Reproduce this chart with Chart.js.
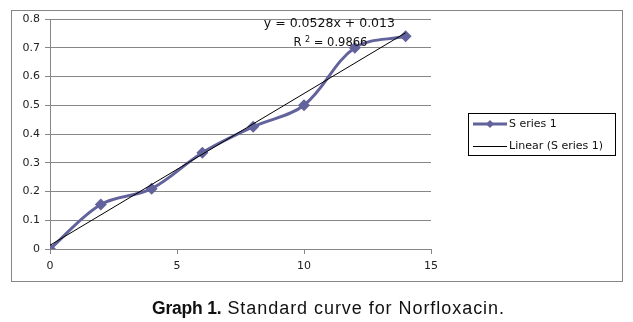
<!DOCTYPE html>
<html>
<head>
<meta charset="utf-8">
<script src="https://cdn.jsdelivr.net/npm/chart.js@4/dist/chart.umd.min.js"></script>
<style>
  html, body { margin: 0; padding: 0; background: #fff; }
  #wrap { position: relative; width: 633px; height: 322px; }
  #c { position: absolute; left: 0; top: 0; }
  #caption { position: absolute; left: 12px; width: 633px; top: 299px; text-align: center; white-space: nowrap;
    font-family: "Liberation Sans", Arial, sans-serif; font-size: 18px; letter-spacing: 0.95px; color: #111; line-height: 18px; }
  #caption b { font-size: 17.5px; letter-spacing: -0.2px; }
</style>
</head>
<body>
<div id="wrap">
  <canvas id="c" width="633" height="322"></canvas>
  <div id="caption"><b>Graph 1.</b> Standard curve for Norfloxacin.</div>
</div>
<script>
// ---- data ----
const concentrations = [0, 2, 4, 6, 8, 10, 12, 14];
const absorbance = [0, 0.155, 0.21, 0.335, 0.425, 0.5, 0.7, 0.74];
const trendX = [0, 14];
const trendY = [0.013, 0.752];
const seriesLabel = "S eries 1";
const trendLabel = "Linear (S eries 1)";
const equationText = "y = 0.0528x + 0.013";
const rSquaredText = "0.9866";
const xTickStep = 5;
const yTickStep = 0.1;

const seriesColor = '#62629c';
const gridColor = '#868686';
const font = "DejaVu Sans";

const seriesPoints = concentrations.map((x, i) => ({ x: x, y: absorbance[i] }));
const trendPoints = trendX.map((x, i) => ({ x: x, y: trendY[i] }));

const decor = {
  id: 'decor',
  afterDraw(chart) {
    const ctx = chart.ctx;
    ctx.save();
    // outer border
    ctx.strokeStyle = gridColor;
    ctx.lineWidth = 1;
    ctx.strokeRect(11.5, 10.5, 611, 271);

    // equation labels
    const xs = chart.scales.x, ys = chart.scales.y;
    ctx.fillStyle = '#111';
    ctx.font = '12.5px "' + font + '"';
    ctx.textBaseline = 'middle';
    ctx.textAlign = 'center';
    const cx = xs.getPixelForValue(11.0);
    ctx.fillText(equationText, cx, ys.getPixelForValue(0.785));
    // R² line
    const y2 = ys.getPixelForValue(0.715);
    const partA = 'R', partSup = '2', partB = ' = ' + rSquaredText;
    ctx.font = '11.5px "' + font + '"';
    const wA = ctx.measureText(partA + ' ').width;
    ctx.font = '8px "' + font + '"';
    const wS = ctx.measureText(partSup).width;
    ctx.font = '11.5px "' + font + '"';
    const wB = ctx.measureText(partB).width;
    let sx = cx - (wA + wS + wB) / 2 + 1;
    ctx.textAlign = 'left';
    ctx.fillText(partA, sx, y2);
    ctx.font = '8px "' + font + '"';
    ctx.fillText(partSup, sx + wA, y2 - 4);
    ctx.font = '11.5px "' + font + '"';
    ctx.fillText(partB, sx + wA + wS, y2);

    // legend
    const lx = 468.5, ly = 113.5, lw = 147, lh = 42;
    ctx.strokeStyle = '#000';
    ctx.lineWidth = 1;
    ctx.strokeRect(lx, ly, lw, lh);
    const ds = chart.data.datasets;
    const rows = [124, 146.5];
    ds.forEach((d, i) => {
      const y = rows[i];
      ctx.strokeStyle = d.borderColor;
      ctx.lineWidth = d.borderWidth;
      ctx.beginPath();
      ctx.moveTo(473, y);
      ctx.lineTo(507, y);
      ctx.stroke();
      if (d.pointRadius > 0) {
        ctx.fillStyle = d.pointBackgroundColor;
        ctx.beginPath();
        ctx.moveTo(490, y - 4);
        ctx.lineTo(494, y);
        ctx.lineTo(490, y + 4);
        ctx.lineTo(486, y);
        ctx.closePath();
        ctx.fill();
      }
      ctx.fillStyle = '#111';
      ctx.font = '11px "' + font + '"';
      ctx.textAlign = 'left';
      ctx.textBaseline = 'middle';
      ctx.fillText(d.label, 509, y);
    });
    ctx.restore();
  }
};

new Chart(document.getElementById('c'), {
  type: 'scatter',
  data: {
    datasets: [
      {
        label: seriesLabel,
        data: seriesPoints,
        showLine: true,
        tension: 0.35,
        borderColor: seriesColor,
        borderWidth: 3,
        pointStyle: 'rectRot',
        pointRadius: 6,
        pointBackgroundColor: seriesColor,
        pointBorderColor: seriesColor,
        pointBorderWidth: 0,
        order: 2
      },
      {
        label: trendLabel,
        data: trendPoints,
        showLine: true,
        borderColor: '#000',
        borderWidth: 1,
        pointRadius: 0,
        pointBackgroundColor: '#000',
        order: 1
      }
    ]
  },
  options: {
    responsive: false,
    animation: false,
    devicePixelRatio: 1,
    layout: { padding: { left: 11, right: 202, top: 19, bottom: 43 } },
    plugins: { legend: { display: false }, tooltip: { enabled: false } },
    scales: {
      x: {
        type: 'linear',
        min: 0, max: 15,
        afterFit(s) { s.height = 30; },
        ticks: { stepSize: xTickStep, color: '#222', font: { family: font, size: 11 }, padding: 6, maxRotation: 0 },
        grid: { drawOnChartArea: false, drawTicks: true, tickLength: 5, color: gridColor },
        border: { color: gridColor }
      },
      y: {
        type: 'linear',
        min: 0, max: 0.8,
        afterFit(s) { s.width = 39; },
        ticks: { stepSize: yTickStep, color: '#222', font: { family: font, size: 11 }, padding: 5,
          callback: v => (Math.abs(v) < 1e-9 ? '0' : v.toFixed(1)) },
        grid: { color: gridColor, tickLength: 5, drawTicks: true },
        border: { color: gridColor }
      }
    }
  },
  plugins: [decor]
});
</script>
</body>
</html>
